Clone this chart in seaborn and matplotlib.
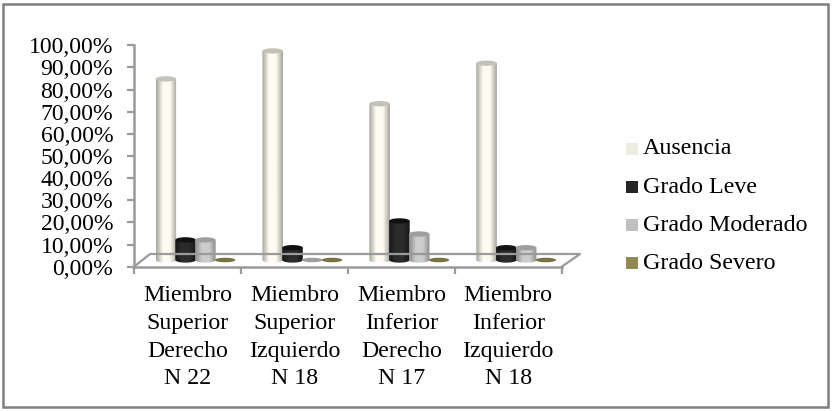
import numpy as np
import pandas as pd
import matplotlib
matplotlib.use("Agg")
import matplotlib.pyplot as plt
import seaborn as sns
from matplotlib.colors import LinearSegmentedColormap
from matplotlib.lines import Line2D
from matplotlib.patches import Ellipse, Polygon, Rectangle

W, H = 833, 411

categorias = ["Miembro\nSuperior\nDerecho\nN 22", "Miembro\nSuperior\nIzquierdo\nN 18",
              "Miembro\nInferior\nDerecho\nN 17", "Miembro\nInferior\nIzquierdo\nN 18"]
grados = ["Ausencia", "Grado Leve", "Grado Moderado", "Grado Severo"]
ausencia = [81.82, 94.44, 70.59, 88.89]
leve = [9.09, 5.56, 17.65, 5.56]
moderado = [9.09, 0.0, 11.76, 5.56]
severo = [0.0, 0.0, 0.0, 0.0]
ticks = list(range(0, 101, 10))

# legend square, body edge, body centre, cap
colores = {
    "Ausencia": ("#EEECE1", "#A6A59C", "#FEFCF2", "#C4C2B8"),
    "Grado Leve": ("#262626", "#181818", "#2C2C2C", "#111111"),
    "Grado Moderado": ("#BFBFBF", "#8C8C8C", "#CDCDCD", "#9E9E9E"),
    "Grado Severo": ("#938953", "#6E6638", "#938953", "#7A7140"),
}

df = pd.DataFrame({"categoria": categorias * 4,
                   "grado": np.repeat(grados, 4),
                   "valor": ausencia + leve + moderado + severo})

plt.rcParams["font.family"] = ["Liberation Serif", "DejaVu Serif"]
GRIS = "#9A9A9A"


def caja(x0, y0, x1, y1):
    # pixel box (y from the top) -> figure fraction
    return [x0 / W, 1 - y1 / H, (x1 - x0) / W, (y1 - y0) / H]


fig = plt.figure(figsize=(W / 100, H / 100), dpi=100)

# outer frame
fig.add_artist(Rectangle((3 / W, 1 - 406.5 / H), 825 / W, 402.5 / H, transform=fig.transFigure,
                         fill=False, edgecolor="#7F7F7F", linewidth=1.8))

# front axes: ticks and labels
ax = fig.add_axes(caja(134, 45.3, 561.7, 266.7))
ax.set_xlim(0, 4)
ax.set_ylim(0, 100)
ax.patch.set_alpha(0)
ax.set_yticks(ticks)
ax.set_yticklabels([f"{t},00%" for t in ticks], fontsize=17.1)
ax.set_xticks(range(5))
ax.set_xticklabels([])
for i, c in enumerate(categorias):
    ax.text(i + 0.5, -8.4, c, ha="center", va="top", fontsize=17.2, linespacing=1.42)
ax.tick_params(axis="both", length=5, width=1.6, color=GRIS)
ax.tick_params(axis="y", pad=10)
sns.despine(ax=ax, top=True, right=True)
for s in ["left", "bottom"]:
    ax.spines[s].set_color(GRIS)
    ax.spines[s].set_linewidth(1.8)

# floor of the 3D box
piso = [(134, 266.7), (150, 254), (580, 254), (561.7, 266.7)]
fig.add_artist(Line2D([p[0] / W for p in piso], [1 - p[1] / H for p in piso],
                      color=GRIS, linewidth=1.6, transform=fig.transFigure))

# bars sit on the floor: same scale, shifted right and up
ax_b = fig.add_axes(caja(142, 38.6, 569.7, 260))
ax_b.patch.set_alpha(0)
sns.barplot(data=df, x="categoria", y="valor", hue="grado", hue_order=grados, dodge=True,
            palette=[colores[g][0] for g in grados], width=0.74, gap=0, legend=False, ax=ax_b)
ax_b.set_xlim(-0.5, 3.5)
ax_b.set_ylim(0, 100)
ax_b.axis("off")

alto = 2.4  # ellipse height in data units
barras = [p for p in ax_b.patches if isinstance(p, Rectangle)]
for k, p in enumerate(barras):
    g = grados[k // 4]
    _, borde, centro, tapa = colores[g]
    w = p.get_width() * 1.04  # neighbours overlap a little
    x, h = p.get_x() - (w - p.get_width()) / 2, p.get_height()
    p.set_visible(False)
    if h > 0:
        cmap = LinearSegmentedColormap.from_list("c", [borde, centro, centro, borde])
        grad = np.linspace(0, 1, 64).reshape(1, -1)
        im = ax_b.imshow(grad, cmap=cmap, extent=(x, x + w, -alto, h), aspect="auto", zorder=3 + k // 4)
        t = np.linspace(np.pi, 2 * np.pi, 30)
        verts = list(zip(x + w / 2 + w / 2 * np.cos(t), alto / 2 * np.sin(t)))
        verts += [(x + w, h), (x, h)]
        im.set_clip_box(fig.bbox)
        im.set_clip_path(Polygon(verts, closed=True, transform=ax_b.transData))
    ax_b.add_patch(Ellipse((x + w / 2, h), w, alto * (1.0 if h > 0 else 0.85), facecolor=tapa,
                           edgecolor="none", clip_on=False, zorder=3.5 + k // 4))
ax_b.set_xlim(-0.5, 3.5)
ax_b.set_ylim(0, 100)

# legend
for g, y, base in zip(grados, [149, 187, 225, 263], [154.3, 193, 231, 269]):
    fig.add_artist(Rectangle((626 / W, 1 - (y + 6) / H), 12 / W, 12 / H, transform=fig.transFigure,
                             facecolor=colores[g][0], edgecolor="none"))
    fig.text(643 / W, 1 - base / H, g, fontsize=17.3, va="baseline", ha="left")

fig.savefig("out.png", dpi=100)
